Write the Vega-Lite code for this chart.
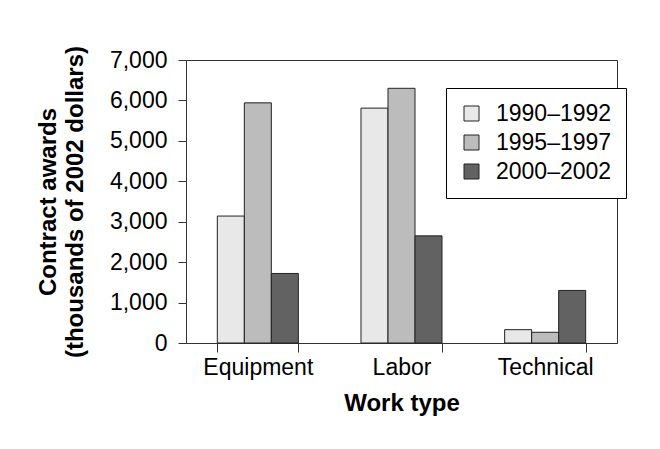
{
  "$schema": "https://vega.github.io/schema/vega-lite/v6.json",
  "width": 431,
  "height": 283,
  "autosize": {"type": "none"},
  "padding": {"left": 186, "top": 60, "right": 43, "bottom": 106},
  "background": "white",
  "data": {
    "values": [
      {"type": "Equipment", "period": "1990–1992", "value": 3140},
      {"type": "Equipment", "period": "1995–1997", "value": 5940},
      {"type": "Equipment", "period": "2000–2002", "value": 1720},
      {"type": "Labor", "period": "1990–1992", "value": 5810},
      {"type": "Labor", "period": "1995–1997", "value": 6300},
      {"type": "Labor", "period": "2000–2002", "value": 2650},
      {"type": "Technical", "period": "1990–1992", "value": 330},
      {"type": "Technical", "period": "1995–1997", "value": 265},
      {"type": "Technical", "period": "2000–2002", "value": 1300}
    ]
  },
  "mark": {"type": "bar", "stroke": "#222", "strokeWidth": 1},
  "encoding": {
    "x": {
      "field": "type",
      "type": "nominal",
      "sort": ["Equipment", "Labor", "Technical"],
      "scale": {"paddingInner": 0.436, "paddingOuter": 0.218},
      "title": "Work type",
      "axis": {
        "labelAngle": 0,
        "tickBand": "extent",
        "tickSize": 9,
        "labelPadding": 4,
        "titlePadding": 12
      }
    },
    "xOffset": {
      "field": "period",
      "type": "nominal",
      "sort": ["1990–1992", "1995–1997", "2000–2002"],
      "scale": {"paddingInner": 0, "paddingOuter": 0}
    },
    "y": {
      "field": "value",
      "type": "quantitative",
      "scale": {"domain": [0, 7000], "nice": false},
      "title": ["Contract awards", "(thousands of 2002 dollars)"],
      "axis": {
        "values": [0, 1000, 2000, 3000, 4000, 5000, 6000, 7000],
        "format": ",d",
        "grid": false,
        "tickSize": 8,
        "labelPadding": 11,
        "titlePadding": 22,
        "titleLineHeight": 27
      }
    },
    "color": {
      "field": "period",
      "type": "nominal",
      "scale": {
        "domain": ["1990–1992", "1995–1997", "2000–2002"],
        "range": ["#e8e8e8", "#bcbcbc", "#626262"]
      },
      "legend": {
        "orient": "none",
        "legendX": 260,
        "legendY": 28,
        "title": null,
        "symbolType": "square",
        "symbolSize": 225,
        "symbolStrokeColor": "#222",
        "symbolStrokeWidth": 1,
        "symbolOpacity": 1,
        "labelFontSize": 23,
        "labelColor": "black",
        "labelFont": "Liberation Sans",
        "strokeColor": "black",
        "fillColor": "white",
        "padding": 14,
        "rowPadding": 5,
        "labelOffset": 13
      }
    }
  },
  "config": {
    "view": {"stroke": "#333", "strokeWidth": 1},
    "font": "Liberation Sans",
    "axis": {
      "domainColor": "#333",
      "tickColor": "#333",
      "labelColor": "black",
      "titleColor": "black",
      "labelFont": "Liberation Sans",
      "titleFont": "Liberation Sans",
      "labelFontSize": 23,
      "titleFontSize": 24,
      "titleFontWeight": "bold"
    }
  }
}
